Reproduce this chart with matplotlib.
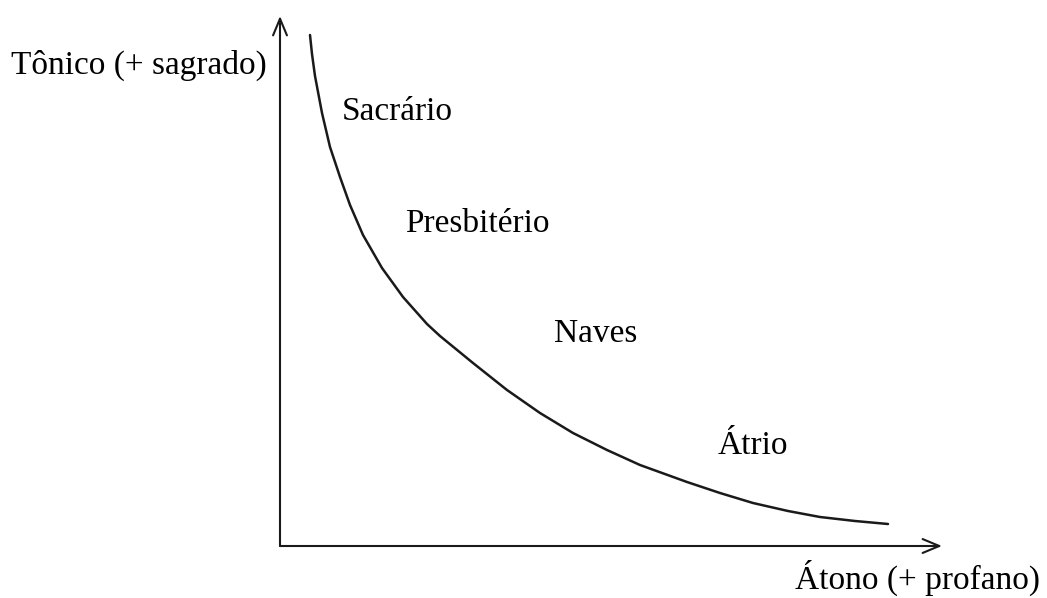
import matplotlib.pyplot as plt

# curve (origin at the axes corner)
curve_x = [30, 32, 35, 42, 50, 60, 70, 83, 102, 123, 147, 160, 193, 227, 260,
           293, 327, 360, 407, 440, 473, 508, 540, 575, 608]
curve_y = [511, 492, 470, 433, 399, 369, 341, 311, 278, 249, 222, 210, 183,
           156, 133, 113, 96, 81, 64, 53, 43, 35, 29, 25, 22]

zone_labels = ['Sacrário', 'Presbitério', 'Naves', 'Átrio']
zone_x = [117, 197, 316, 473]
zone_y = [434, 322, 212, 100]

y_label = 'Tônico (+ sagrado)'
x_label = 'Átono (+ profano)'

plt.rcParams['font.family'] = ['Liberation Serif', 'DejaVu Serif']

fig = plt.figure(figsize=(10.47, 5.98), dpi=100)
ax = fig.add_axes([0, 0, 1, 1])
ax.set_xlim(-280, 767)
ax.set_ylim(-52, 546)
ax.axis('off')

ink = '#1a1a1a'
arrow = dict(arrowstyle='->,head_length=1.2,head_width=0.5', color=ink,
             lw=1.5, shrinkA=0, shrinkB=0)
ax.annotate('', xy=(0, 530), xytext=(0, 0), arrowprops=arrow)
ax.annotate('', xy=(662, 0), xytext=(0, 0), arrowprops=arrow)

ax.plot(curve_x, curve_y, color=ink, lw=1.8, solid_capstyle='round',
        solid_joinstyle='round')

for lab, x, y in zip(zone_labels, zone_x, zone_y):
    ax.text(x, y, lab, fontsize=24, ha='center', va='center', color='black')

ax.text(-13, 481, y_label, fontsize=24, ha='right', va='center', color='black')
ax.text(760, -32, x_label, fontsize=24, ha='right', va='center', color='black')

fig.savefig('out.png', dpi=100)
